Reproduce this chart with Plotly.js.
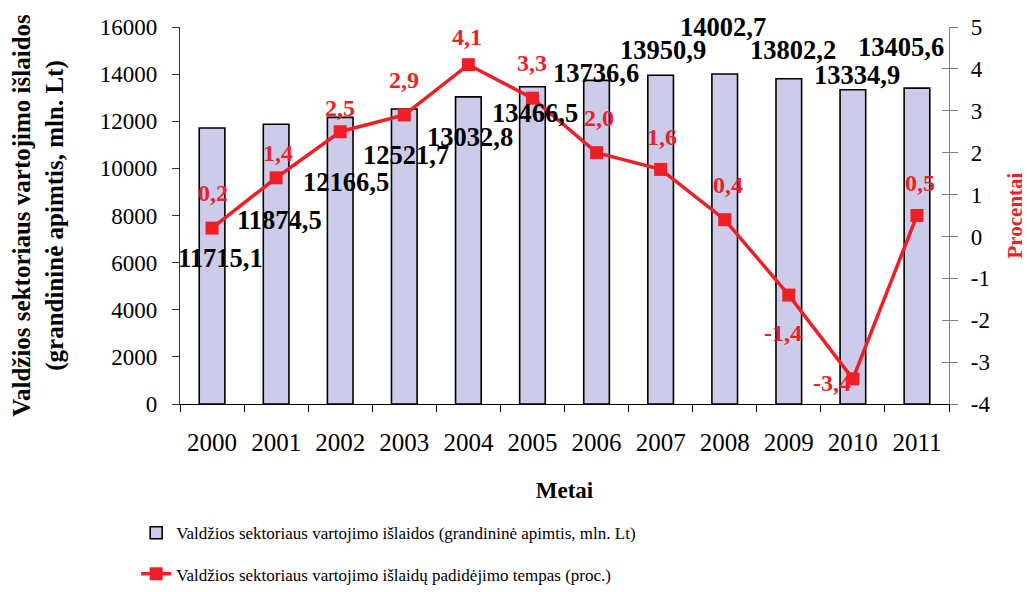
<!DOCTYPE html>
<html><head><meta charset="utf-8">
<script src="https://cdn.plot.ly/plotly-3.0.1.min.js"></script>
<style>body{margin:0;background:#fff}#c{width:1027px;height:592px}</style>
</head><body><div id="c"></div>
<script>
const years = ['2000','2001','2002','2003','2004','2005','2006','2007','2008','2009','2010','2011'];
const spending = [11715.1, 11874.5, 12166.5, 12521.7, 13032.8, 13466.5, 13736.6, 13950.9, 14002.7, 13802.2, 13334.9, 13405.6];
const growth = [0.2, 1.4, 2.5, 2.9, 4.1, 3.3, 2.0, 1.6, 0.4, -1.4, -3.4, 0.5];
const leftTicks = [0, 2000, 4000, 6000, 8000, 10000, 12000, 14000, 16000];
const rightTicks = [-4, -3, -2, -1, 0, 1, 2, 3, 4, 5];
const barName = 'Valdžios sektoriaus vartojimo išlaidos (grandininė apimtis, mln. Lt)';
const lineName = 'Valdžios sektoriaus vartojimo išlaidų padidėjimo tempas (proc.)';

const fmt = v => v.toFixed(1).replace('.', ',');
const F = '"Times New Roman", "Liberation Serif", "DejaVu Serif", serif';
const RED = '#ee1f26';

// label offsets (pixels) as placed in the original chart
const barLabShift = [[8,-130],[3,-96],[6,-65],[2,-46],[2,-40],[3,-26],[-1,7],[2,25],[-2,47],[4,29],[4,15],[-16,41]];
const lineLabShift = [[1,35],[2,25],[0,24],[0,35],[-1,28],[0,35],[2,35],[1,32],[3,35],[-6,-38],[-21,-4],[3,33]];

const ann = [];
years.forEach((y,i)=>{
  ann.push({x:i, y:spending[i], xref:'x', yref:'y', text:'<b>'+fmt(spending[i])+'</b>', showarrow:false,
    xshift:barLabShift[i][0], yshift:barLabShift[i][1], font:{family:F, size:26.5, color:'#000'}});
  ann.push({x:i, y:growth[i], xref:'x', yref:'y2', text:'<b>'+fmt(growth[i])+'</b>', showarrow:false,
    xshift:lineLabShift[i][0], yshift:lineLabShift[i][1], font:{family:F, size:24, color:RED}});
});

const data = [
  {type:'bar', x:years, y:spending, name:barName, legendgroup:'a',
   marker:{color:'#ccccea', line:{color:'#000', width:1.6}}, width:0.4},
  {type:'scatter', mode:'lines+markers', x:years, y:growth, yaxis:'y2', name:lineName, legendgroup:'b',
   line:{color:RED, width:3.5}, marker:{symbol:'square', size:13, color:RED}},
  {type:'scatter', x:years, y:growth, yaxis:'y3', mode:'none', showlegend:false, hoverinfo:'skip'}
];

const layout = {
  width:1027, height:592,
  margin:{l:180, r:78, t:27, b:188, autoexpand:false},
  paper_bgcolor:'#fff', plot_bgcolor:'#fff',
  font:{family:F, size:22, color:'#000'},
  showlegend:true,
  legend:{x:-0.057, xanchor:'left', y:-0.295, yanchor:'top', traceorder:'grouped', tracegroupgap:16,
    font:{family:F, size:17, color:'#000'}, bgcolor:'rgba(0,0,0,0)'},
  xaxis:{type:'category', range:[-0.5, 11.5], autorange:false, showline:true, linecolor:'#000', linewidth:1.2,
    ticks:'outside', ticklen:7, tickson:'boundaries', tickcolor:'#000', showgrid:false, ticklabelstandoff:16,
    tickangle:0, tickfont:{family:F, size:25},
    title:{text:'<b>Metai</b>', font:{family:F, size:23}, standoff:26}},
  yaxis:{range:[0,16000], autorange:false, tickvals:leftTicks, ticktext:leftTicks.map(String),
    showline:true, linecolor:'#333', linewidth:1.2, ticks:'outside', ticklen:7,
    tickcolor:'#333', showgrid:false, zeroline:false, ticklabelstandoff:10, tickfont:{family:F, size:23},
    title:{text:'<b>Valdžios sektoriaus vartojimo išlaidos<br>(grandininė apimtis, mln. Lt)</b>', font:{family:F, size:25}, standoff:29}},
  yaxis2:{overlaying:'y', side:'right', range:[-4,5], autorange:false, tickvals:rightTicks,
    ticktext:rightTicks.map(v=>String(v)), showline:true, linecolor:'#808080', linewidth:1.2,
    ticks:'outside', ticklen:8, tickcolor:'#808080', showgrid:false, zeroline:false, ticklabelstandoff:8,
    tickfont:{family:F, size:23},
    title:{text:'<b>Procentai</b>', font:{family:F, size:21, color:RED}, standoff:24}},
  yaxis3:{overlaying:'y', side:'right', range:[-4,5], autorange:false, tickvals:rightTicks, showline:false,
    ticks:'inside', ticklen:7, tickcolor:'#808080', showticklabels:false, showgrid:false, zeroline:false},
  bargap:0.6,
  annotations:ann
};
Plotly.newPlot('c', data, layout, {displayModeBar:false, staticPlot:true});
</script></body></html>
